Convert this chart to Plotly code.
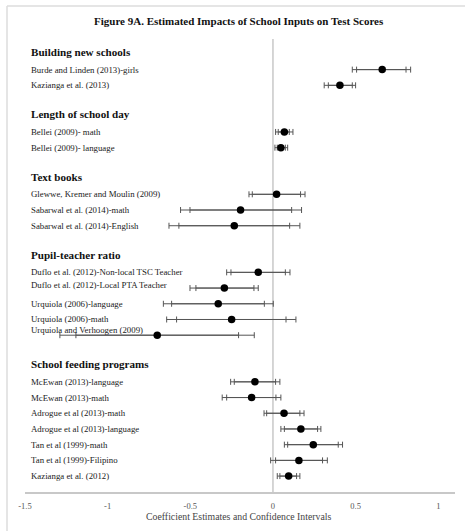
import numpy as np
import plotly.graph_objects as go

title = "Figure 9A. Estimated Impacts of School Inputs on Test Scores"
x_title = "Coefficient Estimates and Confidence Intervals"

groups = ["Building new schools", "Length of school day", "Text books",
          "Pupil-teacher ratio", "School feeding programs"]
group_sizes = [2, 2, 3, 5, 7]

labels = [
    "Burde and Linden (2013)-girls", "Kazianga et al. (2013)",
    "Bellei (2009)- math", "Bellei (2009)- language",
    "Glewwe, Kremer and Moulin (2009)", "Sabarwal et al. (2014)-math", "Sabarwal et al. (2014)-English",
    "Duflo et al. (2012)-Non-local TSC Teacher", "Duflo et al. (2012)-Local PTA Teacher",
    "Urquiola (2006)-language", "Urquiola (2006)-math", "Urquiola and Verhoogen (2009)",
    "McEwan (2013)-language", "McEwan (2013)-math", "Adrogue et al (2013)-math",
    "Adrogue et al (2013)-language", "Tan et al (1999)-math", "Tan et al (1999)-Filipino",
    "Kazianga et al. (2012)",
]
est = [0.661, 0.405, 0.069, 0.048, 0.022, -0.196, -0.234, -0.089, -0.294, -0.331, -0.250, -0.700,
       -0.109, -0.129, 0.067, 0.169, 0.244, 0.157, 0.095]
lo95 = [0.480, 0.310, 0.016, 0.012, -0.145, -0.559, -0.629, -0.280, -0.502, -0.663, -0.643, -1.289,
        -0.256, -0.307, -0.054, 0.048, 0.069, -0.014, 0.026]
lo90 = [0.506, 0.335, 0.032, 0.026, -0.125, -0.502, -0.569, -0.254, -0.466, -0.613, -0.583, -1.192,
        -0.234, -0.280, -0.038, 0.069, 0.089, 0.016, 0.042]
hi90 = [0.805, 0.480, 0.099, 0.075, 0.167, 0.113, 0.101, 0.075, -0.115, -0.052, 0.079, -0.208,
        0.016, 0.018, 0.163, 0.270, 0.395, 0.300, 0.143]
hi95 = [0.833, 0.500, 0.121, 0.089, 0.194, 0.173, 0.163, 0.103, -0.089, 0.002, 0.139, -0.113,
        0.042, 0.048, 0.188, 0.290, 0.421, 0.329, 0.163]

tick_vals = [-1.5, -1, -0.5, 0, 0.5, 1]
tick_text = ["-1.5", "-1", "-0.5", "0", "0.5", "1"]

# ---- layout positions (pixel-like vertical units) ----
header_y, row_y = [], []
pos = 52.0
for n in group_sizes:
    header_y.append(pos)
    pos += 17.6
    for _ in range(n):
        row_y.append(pos)
        pos += 15.7
    pos += 13.3

est_a = np.array(est)
FONT = "Liberation Serif"
LC = "#555555"

fig = go.Figure()
fig.add_trace(go.Scatter(
    x=est, y=row_y, mode="markers", marker=dict(size=1, color="rgba(0,0,0,0)"),
    error_x=dict(type="data", symmetric=False, array=np.array(hi95) - est_a,
                 arrayminus=est_a - np.array(lo95), thickness=1, width=3, color=LC),
    hoverinfo="skip", showlegend=False))
fig.add_trace(go.Scatter(
    x=est, y=row_y, mode="markers", marker=dict(size=1, color="rgba(0,0,0,0)"),
    error_x=dict(type="data", symmetric=False, array=np.array(hi90) - est_a,
                 arrayminus=est_a - np.array(lo90), thickness=1, width=3, color=LC),
    hoverinfo="skip", showlegend=False))
fig.add_trace(go.Scatter(
    x=est, y=row_y, mode="markers", marker=dict(size=7.5, color="black"),
    showlegend=False))

L, R, T, B = 25, 10, 39, 39.3
W, H = 465, 531
pw = W - L - R
ph = H - T - B

def px_to_paper_x(px):
    return (px - L) / pw

def px_to_paper_y(py):
    return (H - B - py) / ph

annotations = []
annotations.append(dict(text="<b>" + title + "</b>", x=px_to_paper_x(239), y=px_to_paper_y(20.7),
                        xref="paper", yref="paper",
                        showarrow=False, xanchor="center", yanchor="middle",
                        font=dict(family=FONT, size=11, color="#111")))
for g, gy in zip(groups, header_y):
    annotations.append(dict(text="<b>" + g + "</b>", x=px_to_paper_x(29), y=gy, xref="paper", yref="y",
                            showarrow=False, xanchor="left", yanchor="middle",
                            font=dict(family=FONT, size=11.1, color="#111")))
for i, (lab, ry) in enumerate(zip(labels, row_y)):
    shift = 5 if lab.startswith("Urquiola and") else (3 if "Local PTA" in lab else 0)
    annotations.append(dict(text=lab, x=px_to_paper_x(29), y=ry, xref="paper", yref="y", yshift=shift,
                            showarrow=False, xanchor="left", yanchor="middle",
                            font=dict(family=FONT, size=8.8, color="#1a1a1a")))
annotations.append(dict(text=x_title, x=px_to_paper_x(239), y=px_to_paper_y(515.7),
                        xref="paper", yref="paper",
                        showarrow=False, xanchor="center", yanchor="middle",
                        font=dict(family=FONT, size=9.8, color="#444")))

shapes = [
    dict(type="line", xref="x", yref="paper", x0=0, x1=0, y0=0, y1=1,
         line=dict(color="#c8c8c8", width=1.5), layer="below"),
    dict(type="line", xref="paper", yref="paper", x0=px_to_paper_x(7), x1=px_to_paper_x(466),
         y0=px_to_paper_y(6), y1=px_to_paper_y(6), line=dict(color="#dcdcdc", width=1.5)),
    dict(type="line", xref="paper", yref="paper", x0=px_to_paper_x(7), x1=px_to_paper_x(7),
         y0=px_to_paper_y(6), y1=px_to_paper_y(532), line=dict(color="#dcdcdc", width=1.5)),
]

fig.update_layout(
    width=W, height=H, margin=dict(l=L, r=R, t=T, b=B),
    paper_bgcolor="white", plot_bgcolor="white",
    xaxis=dict(range=[-1.5, -1.5 + pw / 165.3], tickvals=tick_vals, ticktext=tick_text,
               showgrid=False, zeroline=False, showline=True, linecolor="#c8c8c8", linewidth=1.5,
               ticks="outside", ticklen=5, tickcolor="rgba(0,0,0,0)",
               tickfont=dict(family=FONT, size=8.5, color="#555")),
    yaxis=dict(range=[H - B, T], visible=False, showgrid=False, zeroline=False),
    annotations=annotations, shapes=shapes,
)

fig.write_html("out.html")
